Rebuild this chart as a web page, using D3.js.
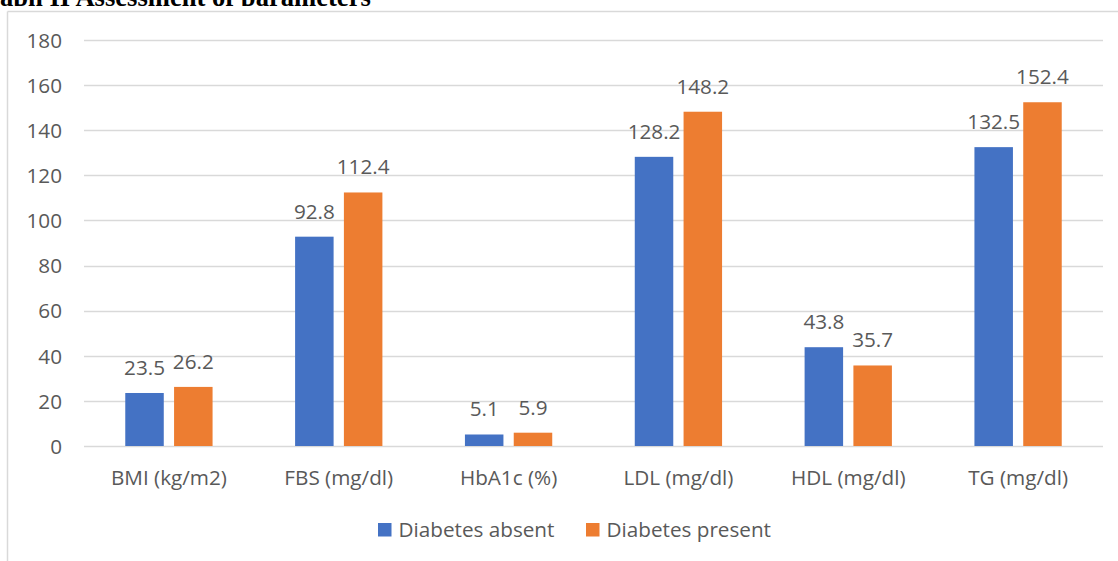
<!DOCTYPE html>
<html>
<head>
<meta charset="utf-8">
<script src="https://cdn.jsdelivr.net/npm/d3@7/dist/d3.min.js"></script>
<style>
  html, body { margin: 0; padding: 0; background: #fff; }
  svg { display: block; }
  text { font-family: "Open Sans", sans-serif; fill: #595959; }
</style>
</head>
<body>
<script>
// Mean clinical parameters by diabetes status
const categories = ["BMI (kg/m2)", "FBS (mg/dl)", "HbA1c (%)", "LDL (mg/dl)", "HDL (mg/dl)", "TG (mg/dl)"];
const seriesNames = ["Diabetes absent", "Diabetes present"];
const absentValues = [23.5, 92.8, 5.1, 128.2, 43.8, 132.5];
const presentValues = [26.2, 112.4, 5.9, 148.2, 35.7, 152.4];
const yTicks = [0, 20, 40, 60, 80, 100, 120, 140, 160, 180];
const titleText = "aph II Assessment of parameters";

const colors = ["#4472C4", "#ED7D31"];
const W = 1118, H = 561;
const fontSize = 20.7;

const svg = d3.select("body").append("svg")
  .attr("width", W).attr("height", H);

// Heading above the chart frame (its lower part is hidden by the frame)
svg.append("text")
  .attr("x", 0).attr("y", 5.5)
  .style("font-family", "'Liberation Serif', serif")
  .style("font-weight", "bold")
  .style("font-size", "26.6px")
  .style("fill", "#000")
  .text(titleText);

svg.append("rect")
  .attr("x", 0).attr("y", 6).attr("width", W).attr("height", H - 6)
  .attr("fill", "#fff");

// Chart frame (top and left edges)
svg.append("line")
  .attr("x1", 7.5).attr("x2", W).attr("y1", 11.5).attr("y2", 11.5)
  .attr("stroke", "#D9D9D9").attr("stroke-width", 1.5);
svg.append("line")
  .attr("x1", 7.5).attr("x2", 7.5).attr("y1", 11.5).attr("y2", H)
  .attr("stroke", "#D9D9D9").attr("stroke-width", 1.5);

const plot = { left: 84, right: 1103, top: 40, bottom: 446 };

const x = d3.scaleBand()
  .domain(categories)
  .range([plot.left, plot.right])
  .paddingInner(0).paddingOuter(0);

const barW = 38.5, barGap = 10.3;

const y = d3.scaleLinear()
  .domain([0, 180])
  .range([plot.bottom, plot.top]);

// Horizontal gridlines
svg.append("g")
  .selectAll("line")
  .data(yTicks)
  .join("line")
  .attr("x1", plot.left).attr("x2", plot.right)
  .attr("y1", d => Math.round(y(d)) + 0.5)
  .attr("y2", d => Math.round(y(d)) + 0.5)
  .attr("stroke", "#D9D9D9").attr("stroke-width", 1.3);

// Y axis labels
const yAxis = d3.axisLeft(y).tickValues(yTicks).tickSize(0).tickPadding(0);
const yg = svg.append("g")
  .attr("transform", `translate(62,0)`)
  .call(yAxis);
yg.select(".domain").remove();
yg.selectAll("text")
  .style("font-family", "'Open Sans', sans-serif")
  .style("font-size", fontSize + "px")
  .attr("fill", "#595959")
  .attr("dy", "0.35em");

// X axis category labels
const xAxis = d3.axisBottom(x).tickSize(0).tickPadding(0);
const xg = svg.append("g")
  .attr("transform", `translate(0,${plot.bottom})`)
  .call(xAxis);
xg.select(".domain").remove();
xg.selectAll("text")
  .style("font-family", "'Open Sans', sans-serif")
  .style("font-size", fontSize + "px")
  .attr("fill", "#595959")
  .attr("dy", null)
  .attr("y", 39);

// Bars and value labels
const series = [absentValues, presentValues];
series.forEach((vals, si) => {
  const offset = si === 0 ? -(barGap / 2 + barW) : barGap / 2;
  const g = svg.append("g");
  const data = categories.map((c, i) => ({ c, v: vals[i] }));
  g.selectAll("rect")
    .data(data)
    .join("rect")
    .attr("x", d => x(d.c) + x.bandwidth() / 2 + offset)
    .attr("width", barW)
    .attr("y", d => y(d.v))
    .attr("height", d => y(0) - y(d.v))
    .attr("fill", colors[si]);
  g.selectAll("text")
    .data(data)
    .join("text")
    .attr("x", d => x(d.c) + x.bandwidth() / 2 + offset + barW / 2)
    .attr("y", d => y(d.v) - 18)
    .attr("text-anchor", "middle")
    .style("font-size", fontSize + "px")
    .text(d => d.v.toFixed(1));
});

// Legend
const legendItems = [
  { name: seriesNames[0], color: colors[0], sx: 378, tx: 398.5 },
  { name: seriesNames[1], color: colors[1], sx: 586, tx: 606.5 }
];
const lg = svg.append("g");
lg.selectAll("rect")
  .data(legendItems)
  .join("rect")
  .attr("x", d => d.sx).attr("y", 523)
  .attr("width", 13.5).attr("height", 13.5)
  .attr("fill", d => d.color);
lg.selectAll("text")
  .data(legendItems)
  .join("text")
  .attr("x", d => d.tx).attr("y", 537)
  .style("font-size", fontSize + "px")
  .text(d => d.name);
</script>
</body>
</html>
